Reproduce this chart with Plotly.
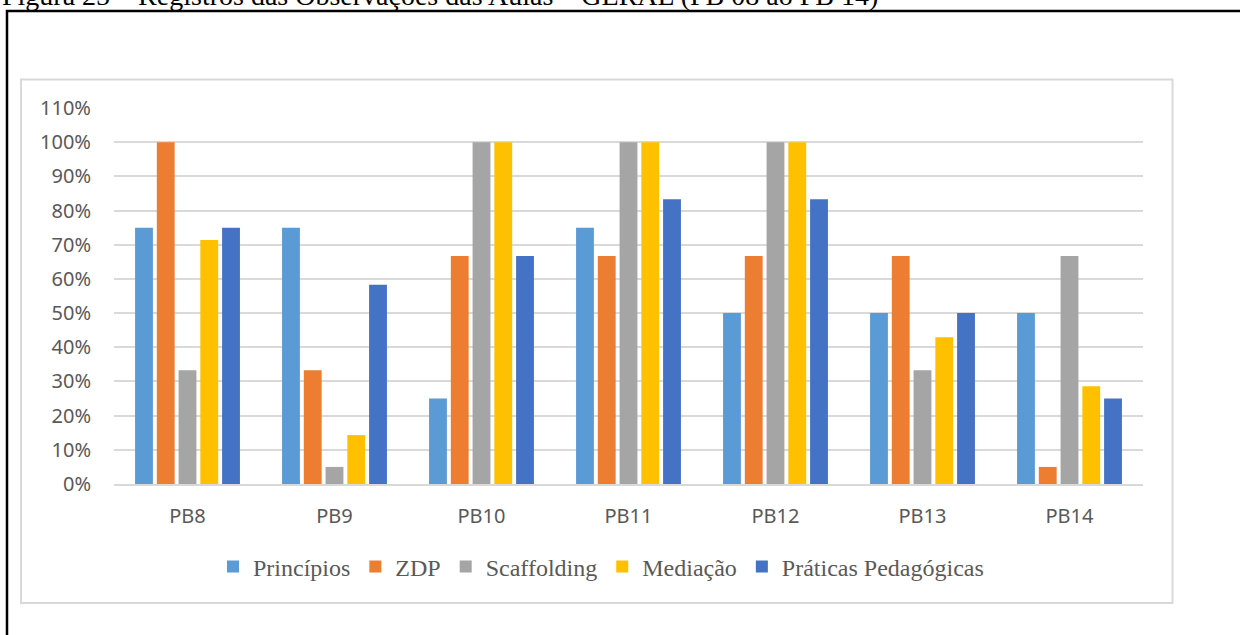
import plotly.graph_objects as go

# Observation records per class (PB8 .. PB14), share of criteria met
categories = ["PB8", "PB9", "PB10", "PB11", "PB12", "PB13", "PB14"]
principios = [0.75, 0.75, 0.25, 0.75, 0.50, 0.50, 0.50]
zdp = [1.00, 0.333, 0.667, 0.667, 0.667, 0.667, 0.05]
scaffolding = [0.333, 0.05, 1.00, 1.00, 1.00, 0.333, 0.667]
mediacao = [0.714, 0.143, 1.00, 1.00, 1.00, 0.429, 0.286]
praticas = [0.75, 0.583, 0.667, 0.833, 0.833, 0.50, 0.25]

series_names = ["Princípios", "ZDP", "Scaffolding", "Mediação", "Práticas Pedagógicas"]
series_values = [principios, zdp, scaffolding, mediacao, praticas]
series_colors = ["#5B9BD5", "#ED7D31", "#A5A5A5", "#FFC000", "#4472C4"]

title_text = "Figura 25 – Registros das Observações das Aulas – GERAL (PB 08 ao PB 14)"

W, H = 1240, 635
PL, PR, PT, PB = 114, 1143, 108, 484  # plot area in pixels


def px_x(x):
    return (x - PL) / (PR - PL)


def px_y(y):
    return (PB - y) / (PB - PT)


fig = go.Figure()
for name, vals, color in zip(series_names, series_values, series_colors):
    fig.add_trace(go.Bar(
        x=categories, y=vals, name=name,
        marker=dict(color=color, line=dict(width=0)),
    ))

grid_color = "#D9D9D9"
tick_font = dict(family="Noto Sans", size=20, color="#595959")

fig.update_layout(
    width=W, height=H,
    margin=dict(l=PL, r=W - PR, t=PT, b=H - PB),
    paper_bgcolor="white", plot_bgcolor="white",
    barmode="group", bargap=0.26, bargroupgap=0.18,
    showlegend=True,
    legend=dict(
        orientation="h", x=px_x(601), y=px_y(567),
        xanchor="center", yanchor="middle",
        font=dict(family="Liberation Serif", size=24, color="#595959"),
        itemwidth=30, tracegroupgap=0, bgcolor="rgba(0,0,0,0)",
    ),
    xaxis=dict(
        showgrid=False, showline=True, linecolor=grid_color, linewidth=2,
        ticks="", tickfont=tick_font, ticklabelstandoff=13,
        fixedrange=True,
    ),
    yaxis=dict(
        range=[0, 1.1], dtick=0.1, tick0=0, tickformat=".0%",
        showgrid=True, gridcolor=grid_color, gridwidth=2,
        zeroline=False, showline=False,
        tickfont=tick_font, ticklabelstandoff=22,
    ),
)

# Outer page frame (black) and chart frame (light gray)
fig.add_shape(type="rect", xref="paper", yref="paper",
              x0=px_x(7), x1=px_x(1262), y0=px_y(11), y1=px_y(660),
              line=dict(color="black", width=2.5), fillcolor="rgba(0,0,0,0)")
fig.add_shape(type="rect", xref="paper", yref="paper",
              x0=px_x(21), x1=px_x(1172.5), y0=px_y(79.5), y1=px_y(603),
              line=dict(color=grid_color, width=2), fillcolor="rgba(0,0,0,0)")

# Figure caption
fig.add_annotation(
    text=title_text, xref="paper", yref="paper",
    x=px_x(0), y=px_y(-5), xanchor="left", yanchor="middle",
    showarrow=False,
    font=dict(family="Liberation Serif", size=28, color="black"),
)

fig.write_html("out.html")
